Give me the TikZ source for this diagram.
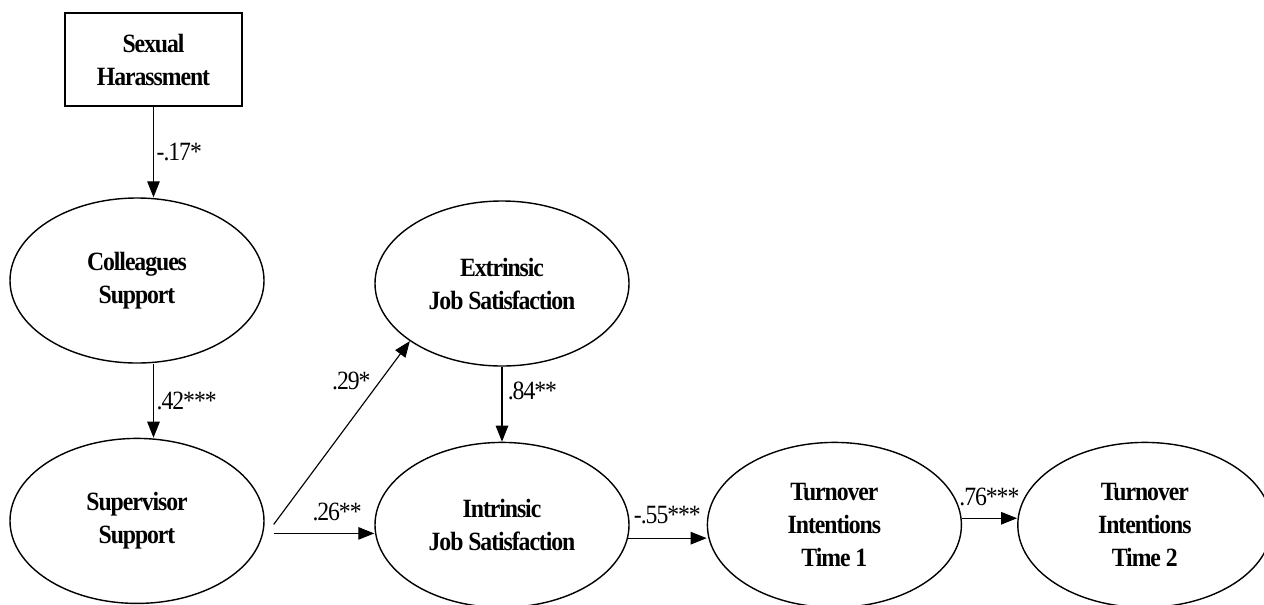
\documentclass[tikz,border=0pt]{standalone}
\usepackage{fontspec}
\setmainfont{Liberation Serif}[FakeStretch=0.9, LetterSpace=-4]
\usepackage{tikz}
\usetikzlibrary{shapes.geometric, arrows.meta, positioning, calc}
\tikzset{
  latent/.style={ellipse, draw=black, line width=0.8pt, inner sep=0pt,
    minimum width=5.08cm, minimum height=3.3cm, align=center,
    font=\fontsize{15}{18.8}\selectfont\bfseries},
  observed/.style={rectangle, draw=black, line width=0.6pt, inner sep=0pt,
    minimum width=3.54cm, minimum height=1.86cm, align=center,
    font=\fontsize{15}{18.8}\selectfont\bfseries},
  arrow/.style={-{Triangle[length=0.32cm, width=0.25cm]}, line width=0.65pt, color=black},
  coef/.style={font=\fontsize{15}{16}\selectfont, inner sep=0pt}
}

\begin{document}
\begin{tikzpicture}
  \useasboundingbox (0,0) rectangle (25.28,-12.08);

  % Left column
  \node[observed] (harass) at (3.07,-1.19) {Sexual\\Harassment};
  \node[latent] (colleagues) at (2.74,-5.61) {Colleagues\\Support};
  \node[latent, below=1.48cm of colleagues] (supervisor) {Supervisor\\Support};

  % Job satisfaction
  \node[latent] (extrinsic) at (10.04,-5.67) {Extrinsic\\Job Satisfaction};
  \node[latent, below=1.5cm of extrinsic] (intrinsic) {Intrinsic\\Job Satisfaction};

  % Turnover
  \node[latent, right=1.54cm of intrinsic] (turnA) {Turnover\\Intentions\\Time 1};
  \node[latent, right=1.1cm of turnA] (turnB) {Turnover\\Intentions\\Time 2};

  % Arrows
  \draw[arrow] (harass.south) -- (harass.south |- colleagues.north)
    node[coef, midway, right=1.5pt] {-.17*};
  \draw[arrow] (colleagues.south -| harass.south) -- (supervisor.north -| harass.south)
    node[coef, midway, right=1.5pt] {.42***};

  \coordinate (supA) at ($(supervisor.east)+(0.18,-0.07)$);
  \coordinate (supB) at ($(supervisor.east)+(0.18,-0.25)$);
  \draw[arrow] (supA) -- (extrinsic.212)
    node[coef, pos=0.78, left=5pt] {.29*};
  \draw[arrow] (supB) -- (supB -| intrinsic.west)
    node[coef, pos=0.63, above=7pt] {.26**};

  \draw[arrow] (extrinsic.south) -- (intrinsic.north)
    node[coef, pos=0.32, right=3pt] {.84**};
  \draw[arrow] (intrinsic.-6) -- (intrinsic.-6 -| turnA.west)
    node[coef, midway, above=8pt] {-.55***};
  \draw[arrow] (turnA.3) -- (turnA.3 -| turnB.west)
    node[coef, midway, above=7pt] {.76***};
\end{tikzpicture}
\end{document}
